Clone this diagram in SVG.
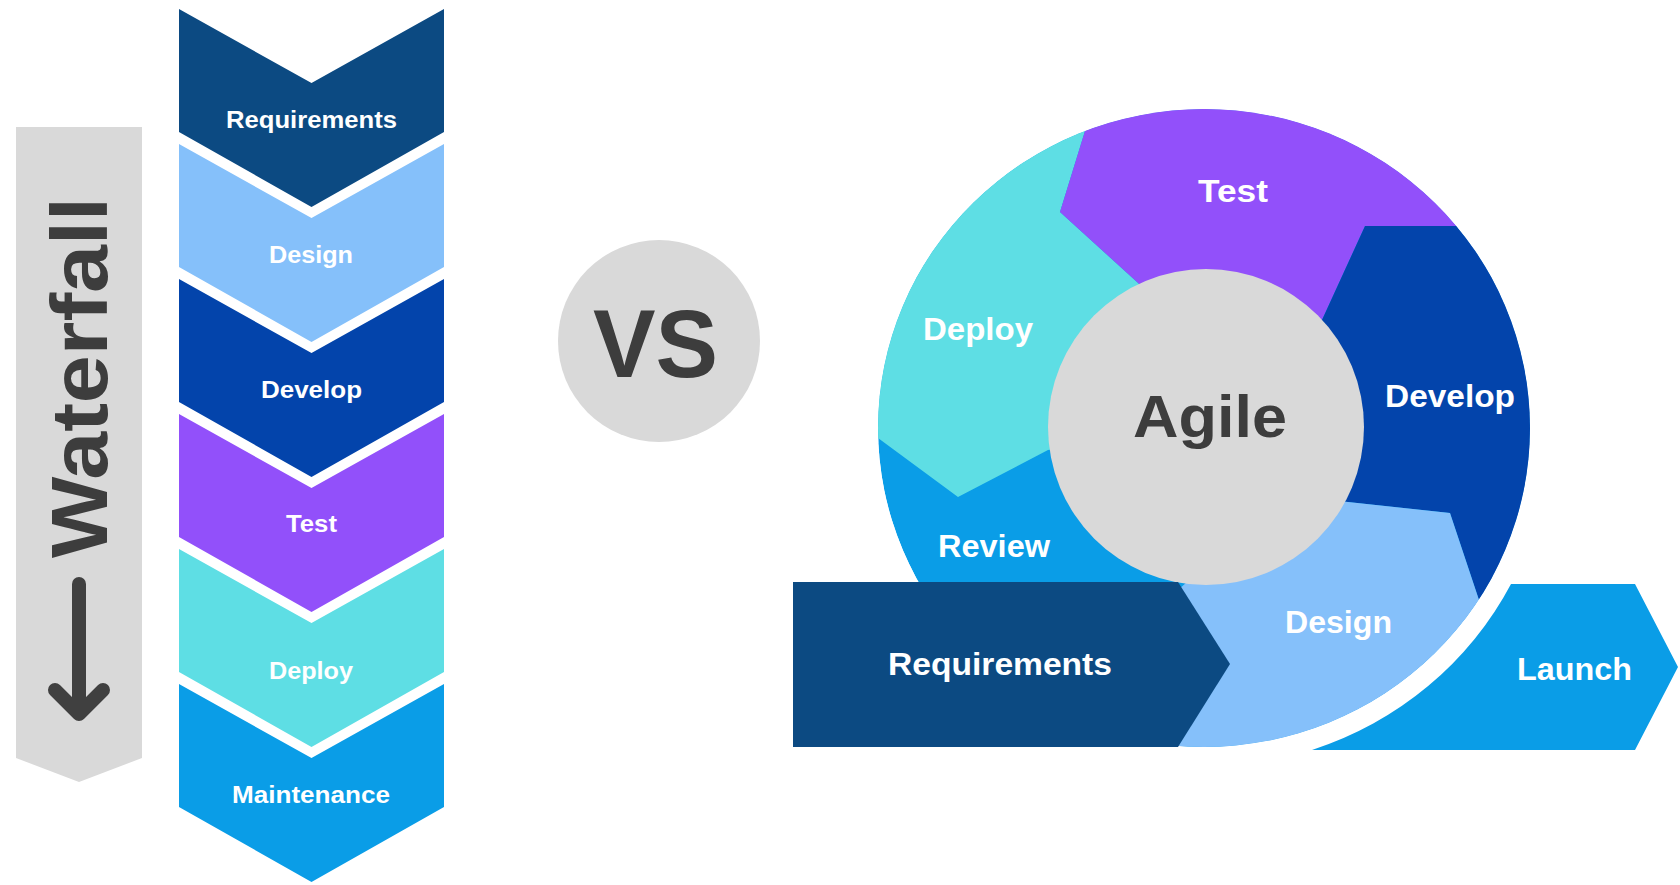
<svg xmlns="http://www.w3.org/2000/svg" width="1680" height="885" viewBox="0 0 1680 885">
<defs>
<style>
.lbl{font-family:"Liberation Sans",Arial,sans-serif;font-weight:700;fill:#ffffff}
.w{font-size:24px}
.a{font-size:31px}
.dark{fill:#3d3d3d}
.navy{fill:#0c4a82}
.lblue{fill:#85c0fa}
.royal{fill:#0344ab}
.purple{fill:#9250fa}
.cyan{fill:#5edee4}
.azure{fill:#0a9de7}
.grey{fill:#d9d9d9}
</style>
<clipPath id="ringClip"><ellipse cx="1204" cy="428" rx="326" ry="319"/></clipPath>
</defs>
<rect width="1680" height="885" fill="#ffffff"/>

<!-- Waterfall side bar -->
<g id="waterfall-bar">
  <polygon class="grey" points="16,127 142,127 142,758 79,782 16,758"/>
  <text class="lbl dark" transform="translate(107,558) rotate(-90)" x="0" y="0" font-size="80" textLength="361" lengthAdjust="spacingAndGlyphs">Waterfall</text>
</g>

<!-- Waterfall chevrons -->
<g id="wf-requirements">
  <polygon class="navy" points="179,9 311.5,83 444,9 444,132 311.5,207 179,132"/>
  <text class="lbl w" x="226" y="128" textLength="171" lengthAdjust="spacingAndGlyphs">Requirements</text>
</g>
<g id="wf-design">
  <polygon class="lblue" points="179,144 311.5,218 444,144 444,267 311.5,342 179,267"/>
  <text class="lbl w" x="269" y="263" textLength="84" lengthAdjust="spacingAndGlyphs">Design</text>
</g>
<g id="wf-develop">
  <polygon class="royal" points="179,279 311.5,353 444,279 444,402 311.5,477 179,402"/>
  <text class="lbl w" x="261" y="398" textLength="101" lengthAdjust="spacingAndGlyphs">Develop</text>
</g>
<g id="wf-test">
  <polygon class="purple" points="179,414 311.5,488 444,414 444,537 311.5,612 179,537"/>
  <text class="lbl w" x="286" y="532" textLength="51" lengthAdjust="spacingAndGlyphs">Test</text>
</g>
<g id="wf-deploy">
  <polygon class="cyan" points="179,549 311.5,623 444,549 444,672 311.5,747 179,672"/>
  <text class="lbl w" x="269" y="679" textLength="84" lengthAdjust="spacingAndGlyphs">Deploy</text>
</g>
<g id="wf-maintenance">
  <polygon class="azure" points="179,684 311.5,758 444,684 444,807 311.5,882 179,807"/>
  <text class="lbl w" x="232" y="803" textLength="158" lengthAdjust="spacingAndGlyphs">Maintenance</text>
</g>

<!-- VS -->
<g id="vs">
  <circle class="grey" cx="659" cy="341" r="101"/>
  <text class="lbl dark" x="593" y="377" font-size="96" textLength="125" lengthAdjust="spacingAndGlyphs">VS</text>
</g>

<!-- Agile ring -->
<g id="agile-ring" clip-path="url(#ringClip)">
  <g id="ag-review">
    <ellipse class="azure" cx="1204" cy="428" rx="326" ry="319"/>
  </g>
  <g id="ag-deploy">
    <polygon class="cyan" points="1110,50 1060,212 1137,282 1175,317 1206,427 1048,450 958,497 878,438 840,410 840,50"/>
  </g>
  <g id="ag-test">
    <polygon class="purple" points="1110,50 1060,212 1137,282 1175,317 1206,427 1273,427 1365,226 1600,226 1600,50"/>
  </g>
  <g id="ag-develop">
    <polygon class="royal" points="1600,226 1365,226 1273,427 1206,427 1246,491 1348,502 1450,513 1510,693 1600,693"/>
  </g>
  <g id="ag-design">
    <polygon class="lblue" points="1206,427 1246,491 1348,502 1450,513 1510,693 1540,800 1150,800 1178,590 1195,575"/>
  </g>
</g>

<g id="ag-center">
  <circle class="grey" cx="1206" cy="427" r="158"/>
  <text class="lbl dark" x="1133" y="437" font-size="60" textLength="154" lengthAdjust="spacingAndGlyphs">Agile</text>
</g>

<g id="ag-requirements">
  <polygon class="navy" points="793,582 1178,582 1230,664 1178,747 793,747"/>
  <text class="lbl a" x="888" y="675" textLength="224" lengthAdjust="spacingAndGlyphs">Requirements</text>
</g>

<g id="ag-launch">
  <path class="azure" d="M1312,750 A346,339 0 0 0 1511,584 L1635,584 L1678,667 L1635,750 Z"/>
  <text class="lbl a" x="1517" y="680" textLength="115" lengthAdjust="spacingAndGlyphs">Launch</text>
</g>

<g id="ag-labels">
  <text class="lbl a" x="1198" y="202" textLength="70" lengthAdjust="spacingAndGlyphs">Test</text>
  <text class="lbl a" x="923" y="340" textLength="110" lengthAdjust="spacingAndGlyphs">Deploy</text>
  <text class="lbl a" x="1385" y="407" textLength="130" lengthAdjust="spacingAndGlyphs">Develop</text>
  <text class="lbl a" x="938" y="557" textLength="112" lengthAdjust="spacingAndGlyphs">Review</text>
  <text class="lbl a" x="1285" y="633" textLength="107" lengthAdjust="spacingAndGlyphs">Design</text>
</g>

<!-- Connectors -->
<g id="connectors" fill="none" stroke="#404040" stroke-width="14" stroke-linecap="round" stroke-linejoin="round">
  <path d="M79,584 V713"/>
  <path d="M55,690 L79,714 L103,690"/>
</g>
</svg>
